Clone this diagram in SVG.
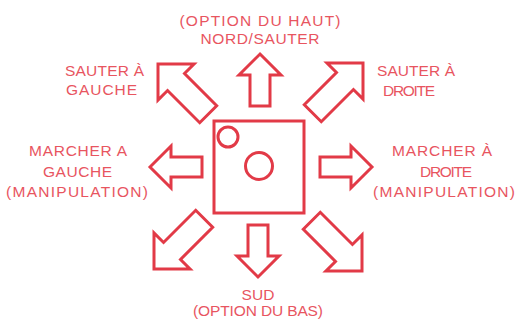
<svg xmlns="http://www.w3.org/2000/svg" xmlns:xlink="http://www.w3.org/1999/xlink" width="516" height="320" viewBox="0 0 516 320">
  <style>
    .shape { fill: #ffffff; stroke: #e23a47; stroke-width: 3; stroke-linejoin: miter; }
    .lbl { font-family: "Liberation Sans", Arial, sans-serif; font-size: 15.5px; fill: #e8555f; }
    .c { text-anchor: middle; }
  </style>
  <defs>
    <path id="arr" d="M0,0 L21,21 L10,21 L10,52 L-10,52 L-10,21 L-21,21 Z"/>
    <path id="darr" d="M0,0 L25.5,25.5 L12,25.5 L12,71 L-12,71 L-12,25.5 L-25.5,25.5 Z"/>
  </defs>
  <rect width="516" height="320" fill="#ffffff"/>

  <g id="joystick">
    <rect class="shape" x="214" y="121" width="90" height="92"/>
    <circle class="shape" cx="228" cy="137" r="10"/>
    <circle class="shape" cx="259" cy="166" r="13.5"/>
  </g>

  <g id="arrows">
    <use xlink:href="#arr" class="shape" transform="translate(260,54)"/>
    <use xlink:href="#arr" class="shape" transform="translate(258,277) rotate(180)"/>
    <use xlink:href="#arr" class="shape" transform="translate(150,167) rotate(-90)"/>
    <use xlink:href="#arr" class="shape" transform="translate(372,167) rotate(90)"/>
    <use xlink:href="#darr" class="shape" transform="translate(158,64) rotate(-45)"/>
    <use xlink:href="#darr" class="shape" transform="translate(363,63) rotate(45)"/>
    <use xlink:href="#darr" class="shape" transform="translate(154,269) rotate(-135)"/>
    <use xlink:href="#darr" class="shape" transform="translate(362,271) rotate(135)"/>
  </g>

  <g id="label-north">
    <text class="lbl c" x="260" y="26" textLength="161" lengthAdjust="spacing">(OPTION DU HAUT)</text>
    <text class="lbl c" x="260" y="44" textLength="119" lengthAdjust="spacing">NORD/SAUTER</text>
  </g>
  <g id="label-northwest">
    <text class="lbl" x="65" y="76" textLength="79" lengthAdjust="spacing">SAUTER À</text>
    <text class="lbl" x="66" y="95" textLength="71" lengthAdjust="spacing">GAUCHE</text>
  </g>
  <g id="label-northeast">
    <text class="lbl" x="377" y="76" textLength="78" lengthAdjust="spacing">SAUTER À</text>
    <text class="lbl" x="383" y="96" textLength="52" lengthAdjust="spacing">DROITE</text>
  </g>
  <g id="label-west">
    <text class="lbl c" x="78" y="156" textLength="98" lengthAdjust="spacing">MARCHER A</text>
    <text class="lbl c" x="77.5" y="177" textLength="69" lengthAdjust="spacing">GAUCHE</text>
    <text class="lbl c" x="77" y="197" textLength="142" lengthAdjust="spacing">(MANIPULATION)</text>
  </g>
  <g id="label-east">
    <text class="lbl c" x="442" y="156" textLength="100" lengthAdjust="spacing">MARCHER À</text>
    <text class="lbl c" x="446" y="177" textLength="52" lengthAdjust="spacing">DROITE</text>
    <text class="lbl c" x="444" y="197" textLength="142" lengthAdjust="spacing">(MANIPULATION)</text>
  </g>
  <g id="label-south">
    <text class="lbl c" x="258" y="300" textLength="33" lengthAdjust="spacing">SUD</text>
    <text class="lbl c" x="258" y="316" textLength="130" lengthAdjust="spacing">(OPTION DU BAS)</text>
  </g>
</svg>
